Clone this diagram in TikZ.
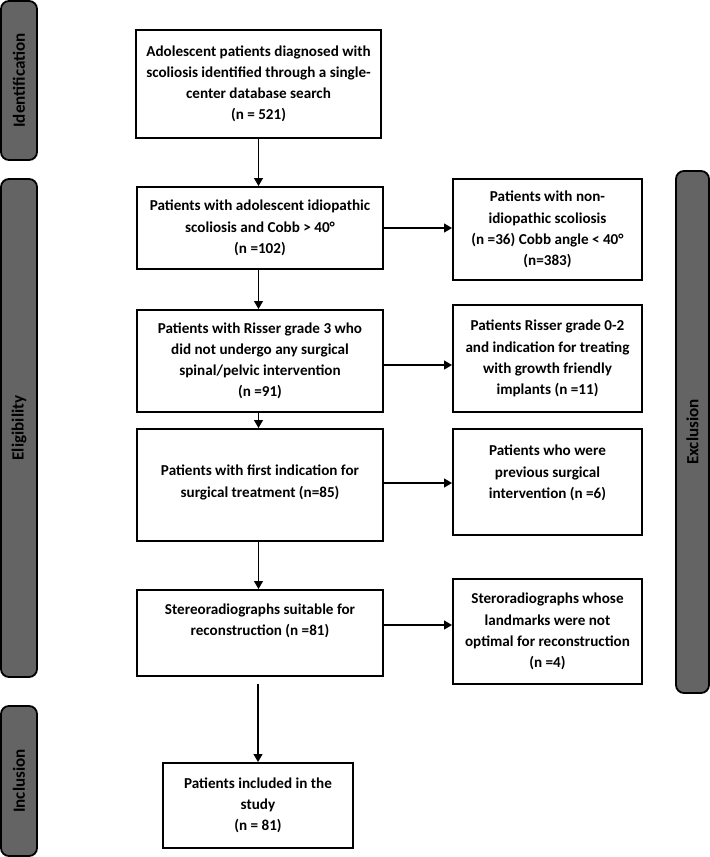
\documentclass[tikz,border=0pt]{standalone}
\usepackage{fontspec}
\setmainfont{Carlito}
\usetikzlibrary{arrows.meta}
\definecolor{sidegray}{RGB}{100,100,100}
\begin{document}
\begin{tikzpicture}[x=0.75pt,y=-0.75pt,
  box/.style={draw=black, line width=1.35pt, fill=white, inner sep=0pt, align=center,
    font=\fontsize{11.35}{15.9}\selectfont\bfseries},
  txt/.style={inner sep=0pt, align=center, font=\fontsize{11.35}{15.9}\selectfont\bfseries},
  side/.style={draw=black, line width=1.35pt, fill=sidegray, rounded corners=6pt, rotate=90,
    inner sep=0pt, minimum height=27pt, font=\fontsize{12.8}{14}\selectfont\bfseries},
  arr/.style={line width=1.35pt, -{Triangle[width=6.5pt,length=6pt]}}]
\useasboundingbox (0,0) rectangle (710,857);

% side bars
\node[side, minimum width=119.25pt] (idf) at (19,80.5) {Identification};
\node[side, minimum width=373.5pt] (elg) at (19,428) {Eligibility};
\node[side, minimum width=112.5pt] (inc) at (19,781) {Inclusion};
\node[side, minimum width=391.5pt, minimum height=24.75pt] (exc) at (692.5,432) {Exclusion};

% main column
\node[box, minimum width=183.75pt, minimum height=81pt] (b1) at (258.5,84)
  {Adolescent patients diagnosed with\\scoliosis identified through a single-\\center database search\\(n = 521)};
\node[box, minimum width=184.5pt, minimum height=61.5pt] (b2) at (260,228)
  {Patients with adolescent idiopathic\\scoliosis and Cobb > 40°\\(n =102)};
\node[box, minimum width=184.5pt, minimum height=76.5pt] (b3) at (260,361)
  {Patients with Risser grade 3 who\\did not undergo any surgical\\spinal/pelvic intervention\\(n =91)};
\node[box, minimum width=184.5pt, minimum height=84pt] (b4) at (260,485) {};
\node[txt] (b4t) at ([yshift=1.9pt]b4.center)
  {Patients with first indication for\\surgical treatment (n=85)};
\node[box, minimum width=184.5pt, minimum height=64.5pt] (b5) at (260,633) {};
\node[txt] (b5t) at ([yshift=9pt]b5.center)
  {Stereoradiographs suitable for\\reconstruction (n =81)};
\node[box, minimum width=142.5pt, minimum height=63.75pt] (b6) at (258,805.5)
  {Patients included in the\\study\\(n = 81)};

% exclusion column
\node[box, minimum width=141.75pt, minimum height=75.75pt] (xa) at (547.5,229.5)
  {Patients with non-\\idiopathic scoliosis\\(n =36) Cobb angle < 40°\\(n=383)};
\node[box, minimum width=141.75pt, minimum height=80.25pt] (xb) at (547.5,358.5)
  {Patients Risser grade 0-2\\and indication for treating\\with growth friendly\\implants (n =11)};
\node[box, minimum width=141.75pt, minimum height=79.5pt] (xc) at (547.5,482) {};
\node[txt] (xct) at ([yshift=6.75pt]xc.center)
  {Patients who were\\previous surgical\\intervention (n =6)};
\node[box, minimum width=141.75pt, minimum height=78.75pt] (xd) at (547.5,631.5)
  {Steroradiographs whose\\landmarks were not\\optimal for reconstruction\\(n =4)};

% vertical arrows
\draw[arr] (b1.south) -- (b1.south |- b2.north);
\draw[arr] (b2.south -| b1.south) -- (b3.north -| b1.south);
\draw[arr] (b3.south -| b1.south) -- (b4.north -| b1.south);
\draw[arr] (b4.south -| b1.south) -- (b5.north -| b1.south);
\coordinate (c5) at (258,684);
\draw[arr] (c5) -- (c5 |- b6.north);

% horizontal arrows
\draw[arr] (b2.east) -- (b2.east -| xa.west);
\coordinate (a3) at ([yshift=-3pt]b3.east);
\draw[arr] (a3) -- (a3 -| xb.west);
\coordinate (a4) at ([yshift=1.5pt]b4.east);
\draw[arr] (a4) -- (a4 -| xc.west);
\coordinate (a5) at ([yshift=6pt]b5.east);
\draw[arr] (a5) -- (a5 -| xd.west);
\end{tikzpicture}
\end{document}
